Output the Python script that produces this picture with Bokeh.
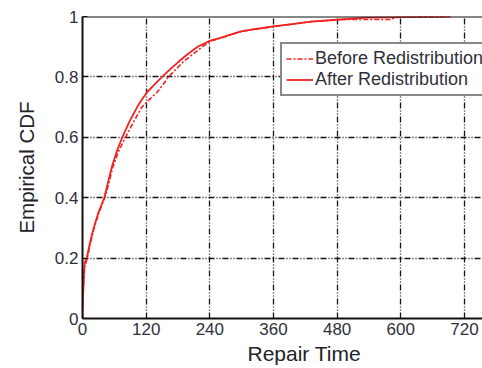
from bokeh.plotting import figure
from bokeh.models import FixedTicker, Legend, LegendItem, Span, Title, Range1d
from bokeh.embed import file_html
from bokeh.resources import INLINE

# Data
after_x = [0, 0, 2, 4, 8, 14, 21, 30, 41, 48, 55, 64, 75, 88, 103, 112, 122, 136, 150,
           165, 181, 198, 217, 241, 260, 279, 297, 320, 360, 395, 430, 486, 534, 600, 694]
after_F = [0, 0.03, 0.12, 0.185, 0.20, 0.25, 0.30, 0.35, 0.40, 0.45, 0.50, 0.55, 0.60, 0.65,
           0.70, 0.725, 0.75, 0.775, 0.80, 0.825, 0.85, 0.875, 0.90, 0.92, 0.929, 0.94, 0.95,
           0.957, 0.967, 0.975, 0.983, 0.99, 0.996, 0.998, 1.0]

before_x = [0, 0, 2, 4, 9, 15, 22, 31, 42, 50, 57, 67, 81, 96, 112, 126, 141, 152, 162, 176,
            190, 208, 226, 243, 262, 281, 299, 322, 362, 397, 432, 488, 540, 580, 590, 694]
before_F = [0, 0.03, 0.11, 0.17, 0.20, 0.25, 0.30, 0.35, 0.40, 0.45, 0.50, 0.55, 0.60, 0.65,
            0.70, 0.725, 0.75, 0.775, 0.80, 0.825, 0.85, 0.875, 0.90, 0.92, 0.929, 0.94, 0.95,
            0.957, 0.967, 0.975, 0.983, 0.99, 0.99, 0.99, 0.997, 1.0]

x_ticks = [0, 120, 240, 360, 480, 600, 720]
y_ticks = [0, 0.2, 0.4, 0.6, 0.8, 1.0]
y_tick_labels = ["0", "0.2", "0.4", "0.6", "0.8", "1"]

series_names = ["Before Redistribution", "After Redistribution"]
x_label = "Repair Time"
y_label = "Empirical CDF"

FONT = "Liberation Sans"
RED = "#f22222"
TXT = "#30303a"

p = figure(width=482, height=368, output_backend="svg", toolbar_location=None,
           x_range=Range1d(0, 754), y_range=Range1d(0, 1),
           min_border_left=82, min_border_right=0, min_border_top=16, min_border_bottom=50)
p.outline_line_color = None
p.background_fill_color = "white"
p.border_fill_color = "white"

# axes
for ax in (p.xaxis[0], p.yaxis[0]):
    ax.axis_line_color = "#111111"
    ax.axis_line_width = 2
    ax.major_tick_in = 5
    ax.major_tick_out = 0
    ax.major_tick_line_color = "#111111"
    ax.minor_tick_line_color = None
    ax.major_label_text_font = FONT
    ax.major_label_text_font_size = "17px"
    ax.major_label_text_color = TXT

p.xaxis.ticker = FixedTicker(ticks=x_ticks)
p.yaxis.ticker = FixedTicker(ticks=y_ticks)
p.yaxis.major_label_overrides = {t: s for t, s in zip(y_ticks, y_tick_labels)}
p.xaxis.major_label_standoff = 4
p.yaxis.major_label_standoff = 4

p.yaxis.axis_label = y_label
p.yaxis.axis_label_text_font = FONT
p.yaxis.axis_label_text_font_size = "20.5px"
p.yaxis.axis_label_text_font_style = "normal"
p.yaxis.axis_label_text_color = "#222228"
p.yaxis.axis_label_standoff = 14

# grid
for g in (p.xgrid[0], p.ygrid[0]):
    g.grid_line_color = "#151515"
    g.grid_line_width = 1.3
    g.grid_line_dash = "6 2 1 2 1 2"

# top border
p.add_layout(Span(location=1, dimension="width", line_color="#111111", line_width=2))

# curves
r_before = p.line(before_x, before_F, line_color=RED, line_width=1.6, line_dash="5 2 2 2")
r_after = p.line(after_x, after_F, line_color=RED, line_width=1.8)

legend = Legend(items=[LegendItem(label=series_names[0], renderers=[r_before]),
                       LegendItem(label=series_names[1], renderers=[r_after])],
                location=(198, 222))
legend.label_text_font = FONT
legend.label_text_font_size = "18px"
legend.label_text_color = TXT
legend.glyph_width = 27
legend.glyph_height = 21
legend.label_height = 21
legend.label_standoff = 2
legend.padding = 4
legend.spacing = 0
legend.margin = 0
legend.border_line_color = "#111111"
legend.border_line_width = 2
legend.background_fill_alpha = 1
p.add_layout(legend, "center")

p.add_layout(Title(text=x_label, align="left", offset=165, standoff=4,
                   text_font=FONT, text_font_size="21px", text_font_style="normal",
                   text_color="#222228"), "below")

open("out.html", "w").write(file_html(p, INLINE))
